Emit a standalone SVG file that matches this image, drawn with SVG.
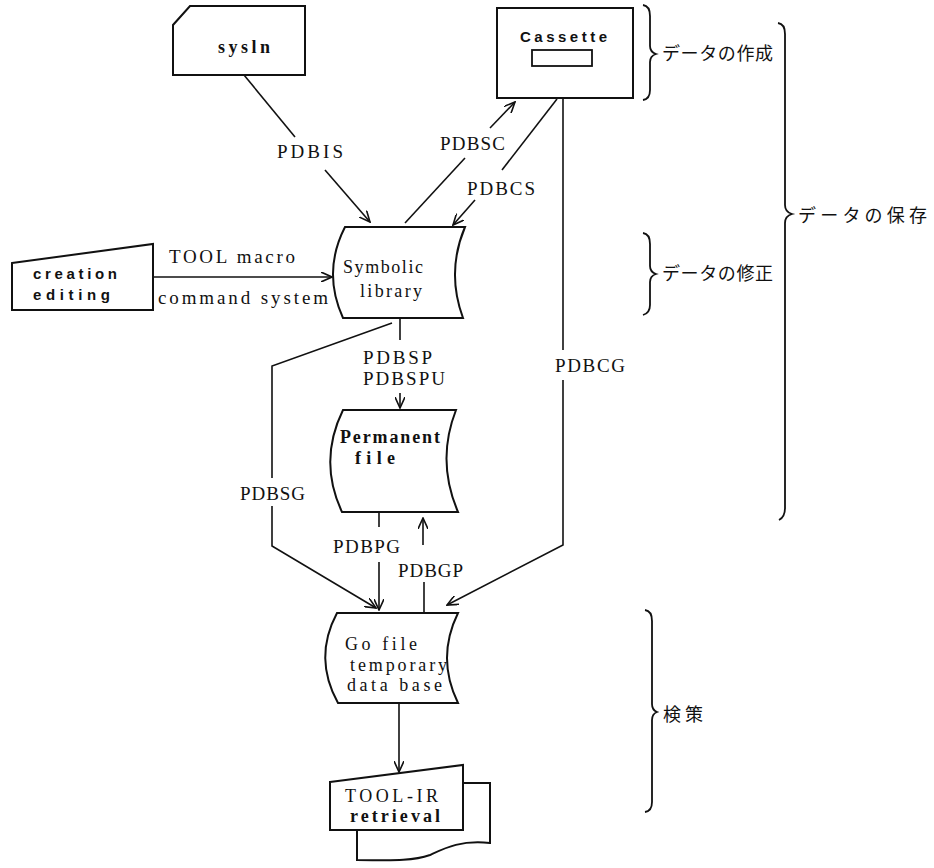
<svg xmlns="http://www.w3.org/2000/svg" width="934" height="868" viewBox="0 0 934 868">
<defs>
<marker id="ah" viewBox="0 0 12 10" refX="11" refY="5" markerWidth="12" markerHeight="10" markerUnits="userSpaceOnUse" orient="auto">
<path d="M0,0 L11,5 L0,10" fill="none" stroke="#111" stroke-width="1.6"/>
</marker>
</defs>
<style>
.shape{fill:#fff;stroke:#111;stroke-width:2}
.ln{fill:none;stroke:#111;stroke-width:1.6}
.arr{fill:none;stroke:#111;stroke-width:1.6;marker-end:url(#ah)}
.br{fill:none;stroke:#111;stroke-width:1.8}
.lbl{font-family:"Liberation Serif","Times New Roman",serif;font-size:19px;fill:#111}
.nd{font-family:"Liberation Serif","Times New Roman",serif;font-size:18px;fill:#111}
.ndb{font-family:"Liberation Sans",Arial,sans-serif;font-size:15px;font-weight:bold;fill:#111}
.jp{font-family:"Noto Sans CJK JP","Noto Sans CJK SC",sans-serif;font-size:18px;fill:#111}
</style>
<rect width="934" height="868" fill="#fff"/>

<g id="connectors">
<path class="ln" d="M244,75 L295,137"/>
<path class="arr" d="M325,170 L370,222"/>
<path class="ln" d="M405,223 L465,158"/>
<path class="arr" d="M490,128 L515,102"/>
<path class="ln" d="M557,99 L502,170"/>
<path class="arr" d="M475,200 L453,225"/>
<path class="arr" d="M153,277 L332,277"/>
<path class="ln" d="M400,318 L400,340"/>
<path class="arr" d="M400,393 L400,408"/>
<path class="ln" d="M392,323 L272,366 L272,478"/>
<path class="arr" d="M272,506 L272,546 L376,608"/>
<path class="ln" d="M563,98 L563,350"/>
<path class="arr" d="M563,380 L563,545 L447,605"/>
<path class="ln" d="M379,512 L379,527"/>
<path class="arr" d="M379,562 L379,610"/>
<path class="arr" d="M423,545 L423,518"/>
<path class="ln" d="M424,582 L424,613"/>
<path class="arr" d="M399,703 L399,772"/>
</g>

<g id="labels">
<text class="lbl" x="277" y="158" textLength="66" lengthAdjust="spacing">PDBIS</text>
<text class="lbl" x="440" y="150" textLength="65" lengthAdjust="spacing">PDBSC</text>
<text class="lbl" x="467" y="195" textLength="68" lengthAdjust="spacing">PDBCS</text>
<text class="lbl" x="169" y="263" textLength="126" lengthAdjust="spacing">TOOL macro</text>
<text class="lbl" x="158" y="304" textLength="170" lengthAdjust="spacing">command system</text>
<text class="lbl" x="363" y="364" textLength="69" lengthAdjust="spacing">PDBSP</text>
<text class="lbl" x="363" y="385" textLength="82" lengthAdjust="spacing">PDBSPU</text>
<text class="lbl" x="555" y="372" textLength="70" lengthAdjust="spacing">PDBCG</text>
<text class="lbl" x="240" y="500" textLength="65" lengthAdjust="spacing">PDBSG</text>
<text class="lbl" x="333" y="553" textLength="67" lengthAdjust="spacing">PDBPG</text>
<text class="lbl" x="398" y="577" textLength="65" lengthAdjust="spacing">PDBGP</text>
</g>

<g id="sysln">
<path class="shape" d="M190,6 L305,6 L305,75 L173,75 L173,25 Z"/>
<text class="nd" x="218" y="53" font-size="20" font-weight="bold" textLength="52" lengthAdjust="spacing">sysln</text>
</g>

<g id="cassette">
<rect class="shape" x="497" y="8" width="136" height="90"/>
<text class="ndb" x="520" y="42" font-size="17" textLength="87" lengthAdjust="spacing">Cassette</text>
<rect x="532" y="50" width="60" height="16" fill="none" stroke="#111" stroke-width="1.8"/>
</g>

<g id="creation">
<path class="shape" d="M12,263 L153,244 L153,310 L12,310 Z"/>
<text class="ndb" x="33" y="279" textLength="84" lengthAdjust="spacing">creation</text>
<text class="ndb" x="33" y="300" textLength="77" lengthAdjust="spacing">editing</text>
</g>

<g id="symbolic">
<path class="shape" d="M345,227 L465,227 Q446,272 463,318 L343,318 Q322,272 345,227 Z"/>
<text class="nd" x="343" y="273" textLength="80" lengthAdjust="spacing">Symbolic</text>
<text class="nd" x="360" y="297" textLength="62" lengthAdjust="spacing">library</text>
</g>

<g id="permanent">
<path class="shape" d="M343,410 L456,410 Q436,461 458,512 L342,512 Q318,461 343,410 Z"/>
<text class="nd" x="340" y="443" font-weight="bold" textLength="100" lengthAdjust="spacing">Permanent</text>
<text class="nd" x="355" y="464" font-weight="bold" textLength="40" lengthAdjust="spacing">file</text>
</g>

<g id="gofile">
<path class="shape" d="M337,613 L458,613 Q436,658 458,703 L338,703 Q313,658 337,613 Z"/>
<text class="nd" x="345" y="650" textLength="72" lengthAdjust="spacing">Go file</text>
<text class="nd" x="350" y="671" textLength="97" lengthAdjust="spacing">temporary</text>
<text class="nd" x="347" y="691" textLength="95" lengthAdjust="spacing">data base</text>
</g>

<g id="toolir">
<path class="shape" d="M463,783 L490,783 L490,843 C460,840 445,848 430,855 C410,862 385,860 357,860 L357,830 L463,830 Z"/>
<path class="shape" d="M330,782 L463,765 L463,830 L330,830 Z"/>
<text class="nd" x="345" y="802" textLength="93" lengthAdjust="spacing">TOOL-IR</text>
<text class="nd" x="350" y="822" font-weight="bold" textLength="90" lengthAdjust="spacing">retrieval</text>
</g>

<g id="braces">
<path class="br" d="M643,5 Q650,6 650,16 L650,46 Q650,52 656,54 Q650,56 650,62 L650,90 Q650,99 643,100"/>
<path class="br" d="M778,23 Q785,24 785,34 L785,205 Q785,212 792,214 Q785,216 785,223 L785,508 Q785,517 779,520"/>
<path class="br" d="M643,233 Q650,234 650,244 L650,266 Q650,272 656,274 Q650,276 650,282 L650,305 Q650,313 643,315"/>
<path class="br" d="M645,610 Q652,611 652,621 L652,704 Q652,710 657,712 Q652,714 652,720 L652,802 Q652,811 645,812"/>
<text class="jp" x="662" y="60" textLength="111" lengthAdjust="spacing">データの作成</text>
<text class="jp" x="798" y="222" textLength="129" lengthAdjust="spacing">データの保存</text>
<text class="jp" x="662" y="280" textLength="111" lengthAdjust="spacing">データの修正</text>
<text class="jp" x="663" y="721" textLength="40" lengthAdjust="spacing">検策</text>
</g>
</svg>
